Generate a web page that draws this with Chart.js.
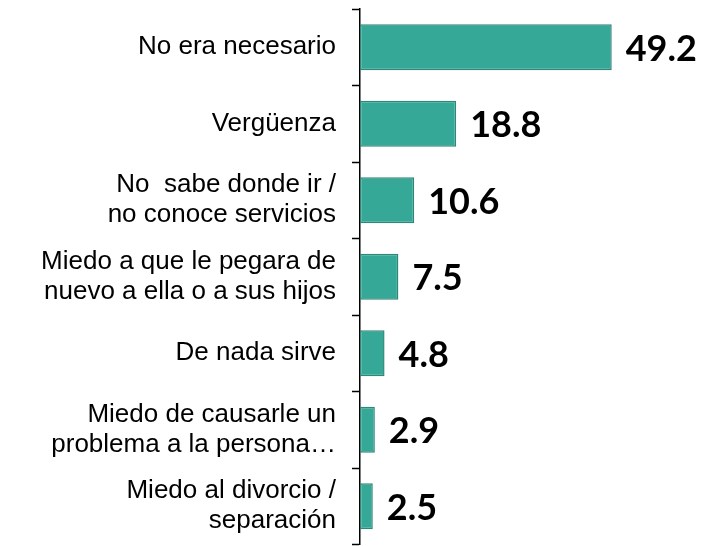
<!DOCTYPE html>
<html>
<head>
<meta charset="utf-8">
<script src="https://cdn.jsdelivr.net/npm/chart.js@4.4.0/dist/chart.umd.min.js"></script>
<style>
  html, body { margin: 0; padding: 0; background: #fff; }
  #wrap { width: 715px; height: 546px; position: relative; }
</style>
</head>
<body>
<div id="wrap"><canvas id="motivosChart"></canvas></div>
<script>
const motivos = [
    ['No era necesario'],
    ['Vergüenza'],
    ['No  sabe donde ir /', 'no conoce servicios'],
    ['Miedo a que le pegara de', 'nuevo a ella o a sus hijos'],
    ['De nada sirve'],
    ['Miedo de causarle un', 'problema a la persona…'],
    ['Miedo al divorcio /', 'separación']
];
const porcentajes = [49.2, 18.8, 10.6, 7.5, 4.8, 2.9, 2.5];

// etiquetas de valor a la derecha de cada barra
const valueLabels = {
    id: 'valueLabels',
    afterDatasetsDraw(chart) {
        const ctx = chart.ctx;
        const meta = chart.getDatasetMeta(0);
        ctx.save();
        ctx.font = 'bold 36px Lato';
        ctx.fillStyle = '#000';
        ctx.textAlign = 'left';
        ctx.textBaseline = 'middle';
        meta.data.forEach((bar, i) => {
            ctx.fillText(porcentajes[i].toFixed(1), bar.x + 14, bar.y + 2);
        });
        ctx.restore();
    }
};

new Chart('motivosChart', {
    type: 'bar',
    data: {
        labels: motivos,
        datasets: [{
            data: porcentajes,
            backgroundColor: '#36A898',
            borderColor: '#2E8778',
            borderWidth: 1.5,
            borderSkipped: false,
            barPercentage: 0.6,
            categoryPercentage: 1
        }]
    },
    options: {
        indexAxis: 'y',
        responsive: true,
        maintainAspectRatio: false,
        animation: false,
        layout: { padding: { top: 9, bottom: 1.5, left: 0, right: 48 } },
        plugins: {
            legend: { display: false },
            tooltip: { enabled: false }
        },
        scales: {
            x: {
                display: false,
                min: 0,
                max: 60
            },
            y: {
                afterFit(scale) {
                    scale.width = 360;
                    scale.paddingTop = 0;
                    scale.paddingBottom = 0;
                },
                grid: {
                    offset: true,
                    drawOnChartArea: false,
                    drawTicks: true,
                    tickLength: 8,
                    tickWidth: 1.5,
                    tickColor: '#000'
                },
                border: { display: true, color: '#000', width: 1.5 },
                ticks: {
                    color: '#000',
                    padding: 16,
                    font: { family: 'Liberation Sans', size: 26, lineHeight: 1.15 }
                }
            }
        }
    },
    plugins: [valueLabels]
});
</script>
</body>
</html>
